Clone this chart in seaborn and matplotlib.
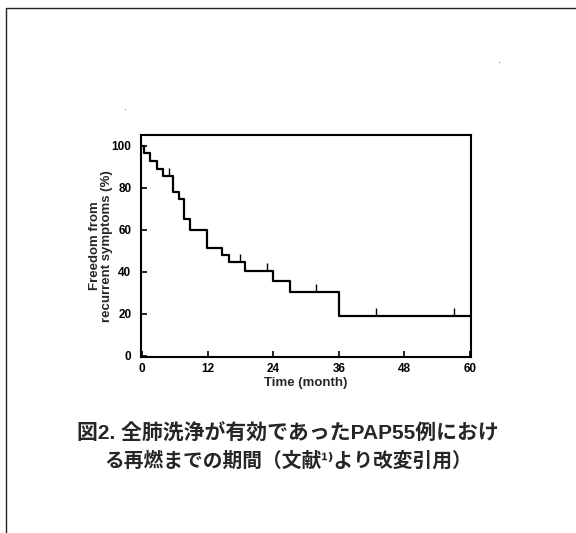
import matplotlib
matplotlib.use("Agg")
import matplotlib.pyplot as plt
import seaborn as sns
import pandas as pd
from matplotlib.patches import Rectangle

# Data
step_times = [0, 0.3, 1.5, 2.7, 3.8, 5.7, 6.8, 7.7, 8.7, 11.9, 14.6, 15.9, 18.9, 23.9, 27.0, 36.0, 60.0]
step_surv = [100, 96.4, 92.7, 89.1, 85.5, 78.2, 74.5, 65.0, 60.0, 51.6, 48.0, 44.5, 40.4, 35.5, 30.6, 19.2, 19.2]
censor_times = [4.9, 17.9, 22.9, 31.9, 42.8, 57.0]
censor_surv = [85.5, 44.5, 40.4, 30.6, 19.2, 19.2]
x_ticks = [0, 12, 24, 36, 48, 60]
y_ticks = [0, 20, 40, 60, 80, 100]
x_label = "Time (month)"
y_label = "Freedom from\nrecurrent symptoms (%)"
caption_lines = ["図2. 全肺洗浄が有効であったPAP55例におけ", "る再燃までの期間（文献¹⁾より改変引用）"]

sns.set_theme(style="white")
plt.rcParams['font.family'] = ['Liberation Sans', 'DejaVu Sans']

fig = plt.figure(figsize=(5.76, 5.33), dpi=100)
fig.patch.set_facecolor("white")

# outer frame (partially visible)
fig.patches.append(Rectangle((6/576, -0.05), 1.2, 1 - 8/533 + 0.05, transform=fig.transFigure,
                             fill=False, edgecolor="#222222", linewidth=1.0, zorder=0))

ax = fig.add_axes([141/576, 1 - 357/533, 330/576, 222/533])
df = pd.DataFrame({"t": step_times, "s": step_surv})
sns.lineplot(data=df, x="t", y="s", ax=ax, drawstyle="steps-post", color="black",
             linewidth=1.6, estimator=None)
cdf = pd.DataFrame({"t": censor_times, "s": censor_surv})
sns.scatterplot(data=cdf, x="t", y="s", ax=ax, marker=2, s=30, color="black",
                linewidth=1.0)
ax.set_xlim(-0.2, 60.2)
ax.set_ylim(-0.5, 105.2)
ax.set_xticks(x_ticks)
ax.set_yticks(y_ticks)
ax.set_xticklabels([str(v) for v in x_ticks], fontsize=8.5, fontweight="bold")
ax.set_yticklabels([str(v) for v in y_ticks], fontsize=8.5, fontweight="bold")
ax.tick_params(axis="both", direction="in", length=4, width=1.2, colors="black",
               bottom=True, left=True, top=False, right=False)
ax.tick_params(axis="x", pad=4)
ax.tick_params(axis="y", pad=7)
for sp in ax.spines.values():
    sp.set_visible(True)
    sp.set_color("black")
    sp.set_linewidth(1.5)
ax.set_xlabel(x_label, fontsize=9.5, fontweight="bold", labelpad=1.5)
ax.set_ylabel(y_label, fontsize=9.5, fontweight="bold", linespacing=1.0)
ax.yaxis.set_label_coords(-0.085, 0.5)
ax.grid(False)

# scan specks
fig.text(125/576, 1 - 111/533, "·", fontsize=6, ha="center", va="center")
fig.text(499/576, 1 - 64/533, "·", fontsize=6, ha="center", va="center")

cap_fam = ['Liberation Sans', 'Noto Sans CJK JP', 'DejaVu Sans']
fig.text(288/576, 1 - 434/533, caption_lines[0], family=cap_fam, fontsize=15,
         fontweight="bold", ha="center", va="center")
fig.text(288/576, 1 - 461/533, caption_lines[1], family=cap_fam, fontsize=14.2,
         fontweight="bold", ha="center", va="center")

fig.savefig("out.png", dpi=100, facecolor="white")
